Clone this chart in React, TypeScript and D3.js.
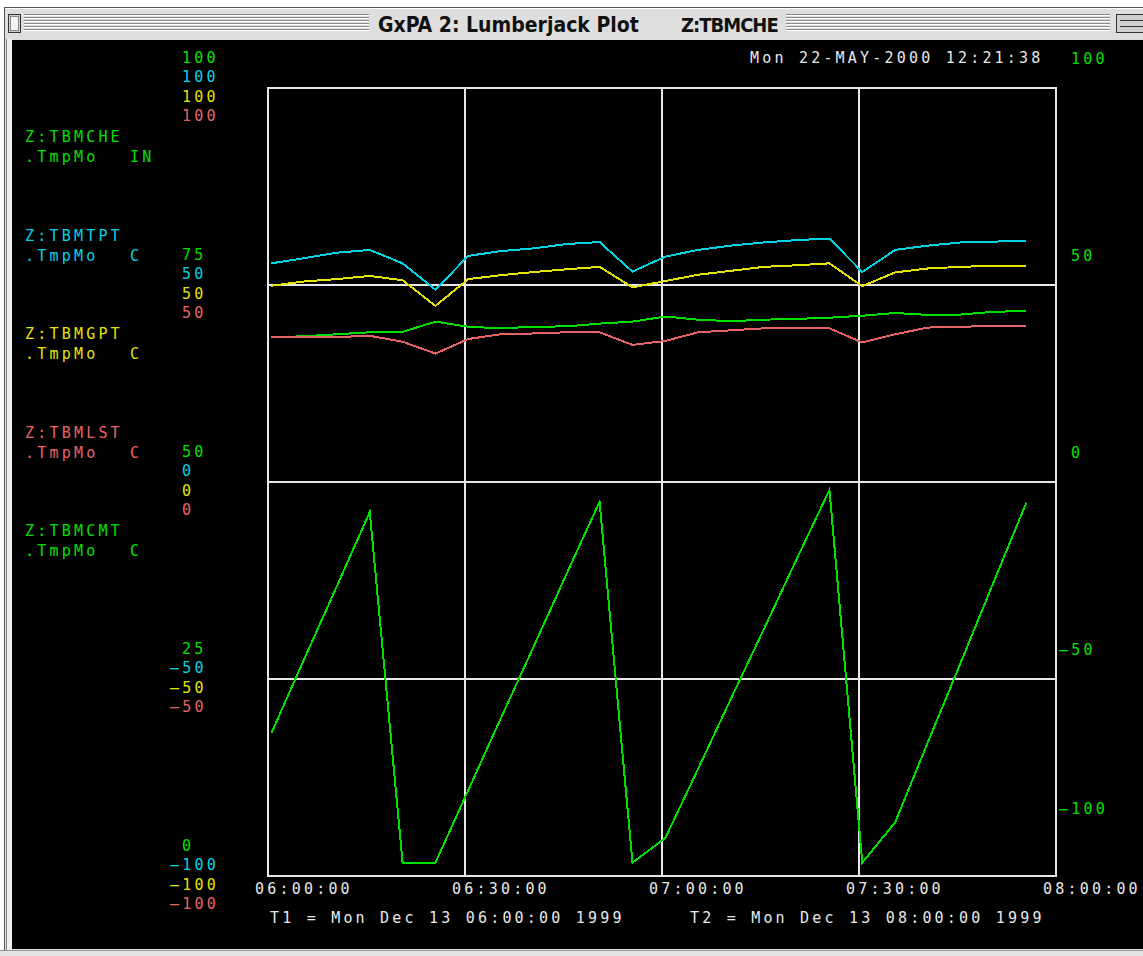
import React from "react";
import * as d3 from "d3";

// sample times (one point every 5 minutes)
const times = [
  "06:00:30", "06:05:30", "06:10:30", "06:15:30", "06:20:30", "06:25:30",
  "06:30:30", "06:35:30", "06:40:30", "06:45:30", "06:50:30", "06:55:30",
  "07:00:30", "07:05:30", "07:10:30", "07:15:30", "07:20:30", "07:25:30",
  "07:30:30", "07:35:30", "07:40:30", "07:45:30", "07:50:30", "07:55:30",
];

// Z:TBMCHE .TmpMo (IN) – left green scale 0..100
const tbmche = [18.1, 27.5, 36.8, 46.2, 1.7, 1.7, 10.9, 20.1, 29.2, 38.4, 47.5, 1.7,
  4.8, 13.6, 22.5, 31.3, 40.2, 49.0, 1.7, 6.8, 17.0, 27.1, 37.3, 47.4];
// Z:TBMTPT .TmpMo (C)
const tbmtpt = [55.5, 56.8, 58.2, 58.9, 55.5, 48.8, 57.4, 58.6, 59.3, 60.4, 60.9, 53.4,
  57.2, 58.9, 60.0, 60.8, 61.4, 61.8, 53.3, 58.9, 60.0, 60.8, 61.0, 61.3];
// Z:TBMGPT .TmpMo (C)
const tbmgpt = [49.8, 50.9, 51.5, 52.3, 51.2, 44.7, 51.5, 52.5, 53.3, 54.0, 54.6, 49.4,
  51.0, 52.6, 53.6, 54.6, 55.0, 55.5, 49.7, 53.2, 54.2, 54.6, 54.9, 54.9];
// Z:TBMLST .TmpMo (C)
const tbmlst = [36.7, 36.8, 36.8, 37.1, 35.6, 32.6, 36.3, 37.5, 37.7, 38.0, 38.0, 34.8,
  35.8, 38.0, 38.5, 39.0, 39.0, 39.0, 35.4, 37.5, 39.2, 39.4, 39.6, 39.7];
// Z:TBMCMT .TmpMo (C) – right scale
const tbmcmt = [36.7, 37.0, 37.5, 38.0, 38.1, 40.7, 39.4, 39.0, 39.4, 39.5, 40.2, 40.7,
  42.0, 41.2, 40.8, 41.2, 41.4, 41.7, 42.2, 42.9, 42.4, 42.5, 43.2, 43.4];

const cheTicks = [100, 75, 50, 25, 0];
const tempTicks = [100, 50, 0, -50, -100];
const timeTicks = ["06:00:00", "06:30:00", "07:00:00", "07:30:00", "08:00:00"];

const legendNames = ["Z:TBMCHE", "Z:TBMTPT", "Z:TBMGPT", "Z:TBMLST", "Z:TBMCMT"];
const legendUnits = ["IN", "C", "C", "C", "C"];

const GREEN = "#00e000";
const CYAN = "#00d4e4";
const YELLOW = "#e4e400";
const RED = "#e86464";
const GRID = "#e8e8e8";
const legendColors = [GREEN, CYAN, YELLOW, RED, GREEN];

const MONO = "'DejaVu Sans Mono', 'Liberation Mono', monospace";
const TITLE_FONT = "'Liberation Sans Narrow', 'DejaVu Sans Condensed', sans-serif";

const parseT = (s: string) => d3.timeParse("%Y-%m-%d %H:%M:%S")("1999-12-13 " + s) as Date;

export default function App() {
  const W = 1143, H = 956;
  const left = 268, right = 1056, top = 88, bottom = 876;

  const x = d3.scaleTime().domain([parseT("06:00:00"), parseT("08:00:00")]).range([left, right]);
  const yChe = d3.scaleLinear().domain([0, 100]).range([bottom, top]);
  const yTemp = d3.scaleLinear().domain([-100, 100]).range([bottom, top]);
  const yRight = d3.scaleLinear().domain([-100, 100]).range([bottom, top]);

  const dates = times.map(parseT);
  const mk = (vals: number[], y: d3.ScaleLinear<number, number>) =>
    d3.line<number>().x((_, i) => x(dates[i])).y((d) => y(d))(vals) || "";

  const series = [
    { vals: tbmche, y: yChe, color: GREEN },
    { vals: tbmcmt, y: yRight, color: GREEN },
    { vals: tbmlst, y: yTemp, color: RED },
    { vals: tbmgpt, y: yTemp, color: YELLOW },
    { vals: tbmtpt, y: yTemp, color: CYAN },
  ];

  const txt = { fontFamily: MONO, fontSize: 15, letterSpacing: 3.2 } as React.CSSProperties;

  // left stacked scale labels, one row per series
  const leftRows = [
    { ticks: cheTicks, y: yChe, color: GREEN, dy: -31 },
    { ticks: tempTicks, y: yTemp, color: CYAN, dy: -11.5 },
    { ticks: tempTicks, y: yTemp, color: YELLOW, dy: 8 },
    { ticks: tempTicks, y: yTemp, color: RED, dy: 27.5 },
  ];

  const stripes = d3.range(6);

  return (
    <div style={{ position: "absolute", left: 0, top: 0 }}>
      <svg width={W} height={H} style={{ display: "block" }}>
        <rect x={0} y={0} width={W} height={H} fill="#ffffff" />
        {/* window frame */}
        <rect x={4.5} y={7.5} width={W} height={944} fill="#dddddd" stroke="#555" />
        {/* title bar */}
        <rect x={5} y={8} width={W} height={31} fill="#dedede" />
        <line x1={5} x2={W} y1={8.5} y2={8.5} stroke="#fff" />
        {stripes.map((i) => (
          <g key={i}>
            <line x1={24} x2={369} y1={14.5 + i * 3} y2={14.5 + i * 3} stroke="#8a8a8a" />
            <line x1={24} x2={369} y1={15.5 + i * 3} y2={15.5 + i * 3} stroke="#ffffff" />
            <line x1={786} x2={1110} y1={14.5 + i * 3} y2={14.5 + i * 3} stroke="#8a8a8a" />
            <line x1={786} x2={1110} y1={15.5 + i * 3} y2={15.5 + i * 3} stroke="#ffffff" />
          </g>
        ))}
        <rect x={8.5} y={14.5} width={12} height={18} fill="#cfcfcf" stroke="#333" />
        <rect x={10.5} y={16.5} width={8} height={14} fill="#f4f4f4" stroke="#888" />
        <rect x={1116.5} y={14.5} width={30} height={18} fill="#cfcfcf" stroke="#333" />
        <line x1={1120} x2={1143} y1={20.5} y2={20.5} stroke="#333" />
        <line x1={1120} x2={1143} y1={26.5} y2={26.5} stroke="#333" />
        <text x={378} y={32} fontFamily={TITLE_FONT} fontWeight="bold"
          fontSize={21} fill="#111">GxPA 2: Lumberjack Plot</text>
        <text x={681} y={32} fontFamily={TITLE_FONT} fontWeight="bold"
          fontSize={20} fill="#111" letterSpacing={-1}>Z:TBMCHE</text>
        {/* left frame */}
        <line x1={6.5} x2={6.5} y1={39} y2={952} stroke="#888" />
        <rect x={7} y={39} width={5} height={912} fill="#eeeeee" />
        {/* content area */}
        <rect x={12} y={40} width={W - 12} height={909} fill="#000" />
        <rect x={0} y={950} width={W} height={6} fill="#e4e4e4" />
        <line x1={0} x2={W} y1={950.5} y2={950.5} stroke="#999" />

        {/* grid */}
        <g shapeRendering="crispEdges">
          <rect x={left} y={top} width={right - left} height={bottom - top} fill="none" stroke={GRID} strokeWidth={2} />
          {timeTicks.slice(1, -1).map((t) => (
            <line key={t} x1={x(parseT(t))} x2={x(parseT(t))} y1={top} y2={bottom} stroke={GRID} strokeWidth={2} />
          ))}
          {tempTicks.slice(1, -1).map((v) => (
            <line key={v} x1={left} x2={right} y1={yTemp(v)} y2={yTemp(v)} stroke={GRID} strokeWidth={2} />
          ))}
        </g>

        {/* traces */}
        <g shapeRendering="crispEdges">
          {series.map((s, i) => (
            <path key={i} d={mk(s.vals, s.y)} fill="none" stroke={s.color} strokeWidth={2} />
          ))}
        </g>

        {/* left legend */}
        {legendNames.map((n, i) => (
          <g key={n} fill={legendColors[i]} style={txt}>
            <text x={25} y={142 + i * 98.5}>{n}</text>
            <text x={25} y={162 + i * 98.5}>.TmpMo</text>
            <text x={130} y={162 + i * 98.5}>{legendUnits[i]}</text>
          </g>
        ))}

        {/* left scale labels */}
        {leftRows.map((r, ri) =>
          r.ticks.map((v) => (
            <text key={ri + "-" + v} x={v < 0 ? 170 : 182} y={r.y(v) + r.dy + 5.5} fill={r.color} style={txt}>
              {String(v).replace("-", "\u2013")}
            </text>
          ))
        )}

        {/* right scale labels */}
        {tempTicks.map((v) => (
          <text key={v} x={v < 0 ? 1059 : 1071} y={Math.min(yRight(v) - 30, yRight(-100) - 68) + 5.5}
            fill={GREEN} style={txt}>
            {String(v).replace("-", "\u2013")}
          </text>
        ))}

        {/* timestamp */}
        <text x={750} y={62.5} fill={GRID} style={txt}>Mon 22-MAY-2000 12:21:38</text>

        {/* time axis */}
        {timeTicks.map((t) => (
          <text key={t} x={x(parseT(t)) - 13} y={894} fill={GRID} style={txt}>{t}</text>
        ))}
        <text x={270} y={923} fill={GRID} style={txt}>T1 = Mon Dec 13 06:00:00 1999</text>
        <text x={690} y={923} fill={GRID} style={txt}>T2 = Mon Dec 13 08:00:00 1999</text>
      </svg>
    </div>
  );
}
